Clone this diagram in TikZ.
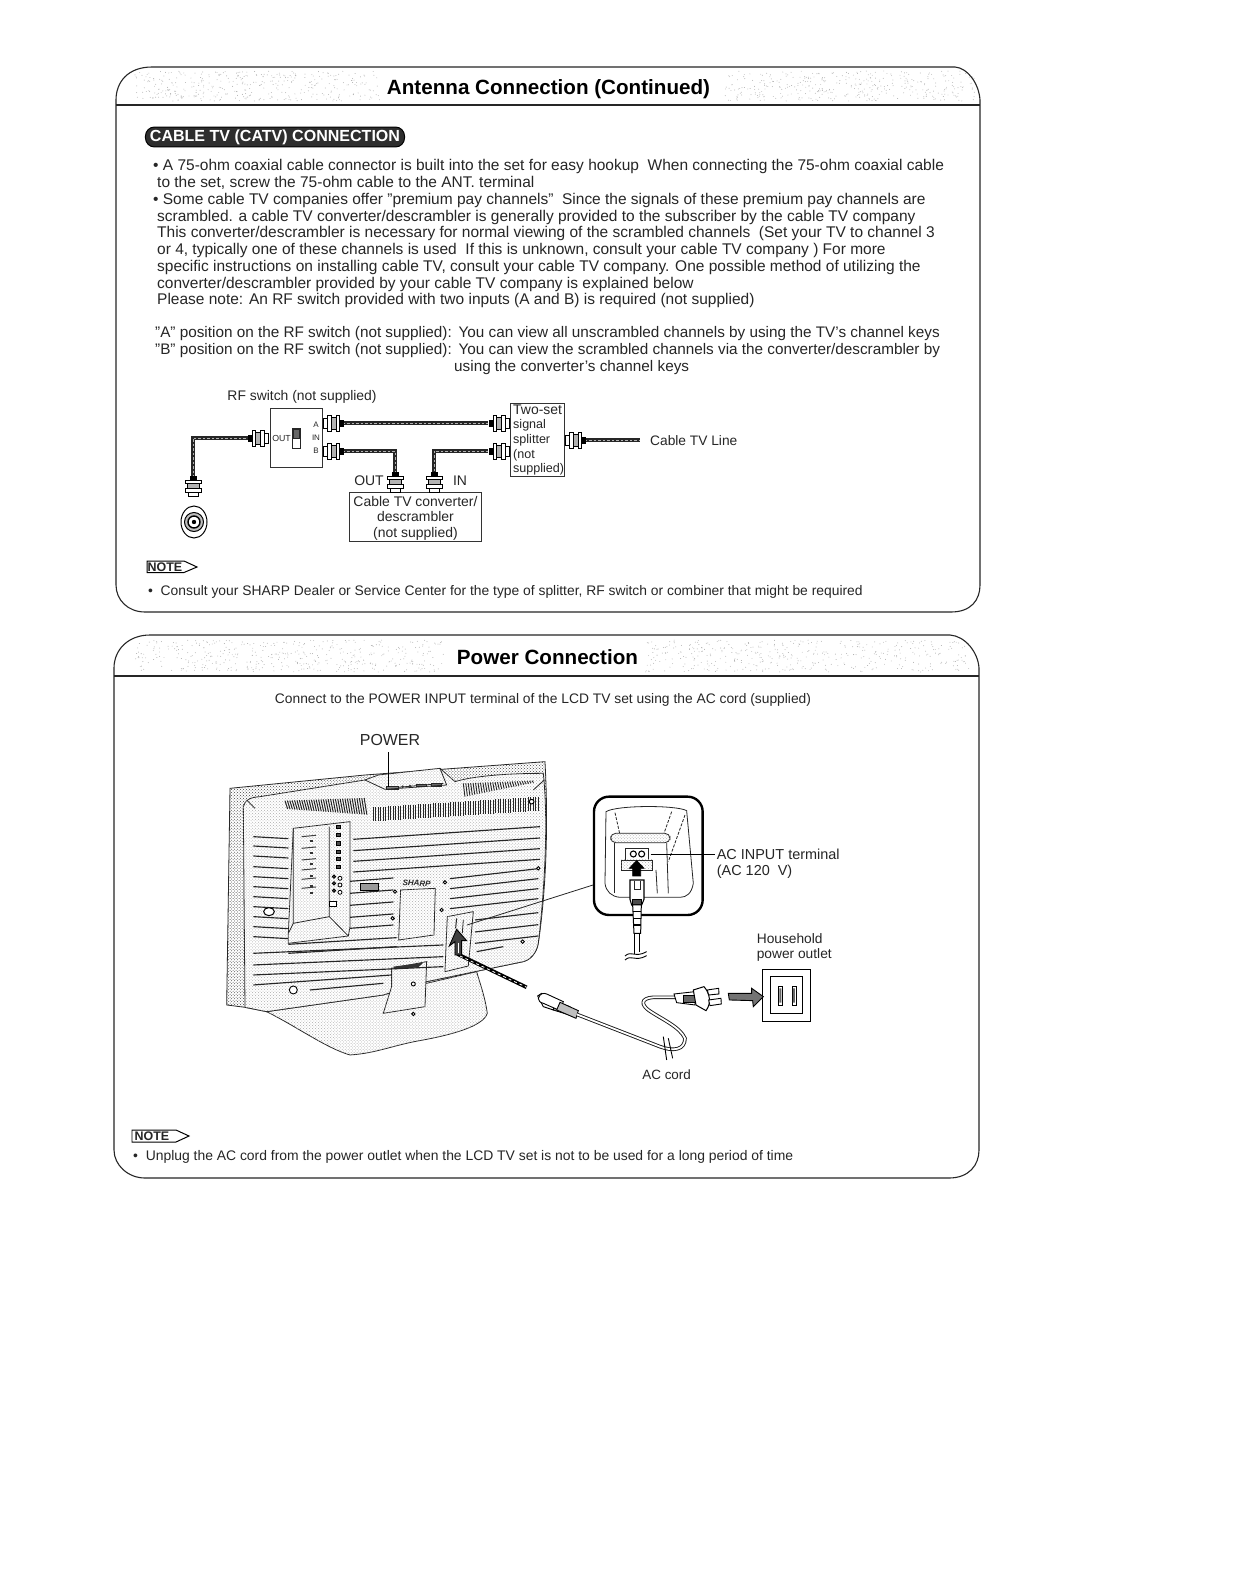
\documentclass[tikz,border=0pt]{standalone}
\usepackage{fontspec}
\setmainfont{Liberation Sans}
\usetikzlibrary{patterns,calc}
\newcommand{\fsz}[1]{\fontsize{#1}{#1}\selectfont}
\tikzset{
 panel/.style={draw=black!85,line width=1.1},
 txt/.style={anchor=base west,inner sep=0,text=black!85,font=\fsz{15.55}},
 txtb/.style={txt,font=\fsz{15.35}},
 lbl/.style={inner sep=0,text=black!85,font=\fsz{14}},
 ttl/.style={inner sep=0,text=black,font=\fsz{20.7}\bfseries},
 cable/.style={line width=3.8,draw=black!85,postaction={draw=black!30,line width=1,dash pattern=on 2.5 off 2}},
 box/.style={draw=black!80,line width=1,fill=white,inner sep=0},
 ln/.style={draw=black!85,line width=.8},
 slat/.style={draw=black!85,line width=1.15},
 stip/.style={pattern=crosshatch dots,pattern color=black!32},
 stipd/.style={pattern=crosshatch dots,pattern color=black!75},
 pics/coax/.style={code={
  \draw[fill=white,line width=.9] (-10,-5) rectangle (-6,5);
  \draw[fill=white,line width=.9] (-6,-8) rectangle (-2,8);
  \draw[fill=black!30,line width=.9] (-2,-6) rectangle (3,6);
  \draw[fill=white,line width=.9] (3,-8) rectangle (6,8);
  \draw[fill=black,line width=.9] (6,-3) rectangle (10,3);
 }}
}
\begin{document}
\begin{tikzpicture}[x=1bp,y=-1bp]
\useasboundingbox (0,0) rectangle (1234,1574);
\fill[white] (0,0) rectangle (1234,1574);
% ---- title stipple
\pgfmathsetseed{7}
\foreach \i in {1,...,380}{\pgfmathsetmacro\xa{135+rnd*245}\pgfmathsetmacro\ya{71+rnd*30}\fill[black!32] (\xa,\ya) circle (.45);}
\foreach \i in {1,...,380}{\pgfmathsetmacro\xa{725+rnd*250}\pgfmathsetmacro\ya{71+rnd*30}\fill[black!32] (\xa,\ya) circle (.45);}
\foreach \i in {1,...,440}{\pgfmathsetmacro\xa{135+rnd*310}\pgfmathsetmacro\ya{640+rnd*32}\fill[black!32] (\xa,\ya) circle (.45);}
\foreach \i in {1,...,420}{\pgfmathsetmacro\xa{645+rnd*325}\pgfmathsetmacro\ya{640+rnd*32}\fill[black!32] (\xa,\ya) circle (.45);}
% ---- panels
\draw[panel] (116,105) -- (116,100) .. controls (116,82) and (128,67) .. (152,67) -- (955,67) .. controls (968,68) and (979,84) .. (980,100) -- (980,585) .. controls (980,600) and (971,612) .. (951,612) -- (145,612) .. controls (128,612) and (116,600) .. (116,585) -- cycle;
\draw[panel] (116,105) -- (980,105);
\draw[panel] (114,675) -- (114,668) .. controls (114,650) and (128,635) .. (150,635) -- (950,635) .. controls (965,636) and (978,652) .. (979,668) -- (979,1150) .. controls (979,1165) and (969,1178) .. (949,1178) -- (145,1178) .. controls (128,1178) and (114,1165) .. (114,1150) -- cycle;
\draw[panel] (114,676) -- (979,676);
\node[ttl] (t1) at (548.5,89) {Antenna Connection (Continued)};
\node[ttl] (t2) at (547.5,657) {Power Connection};
% ---- banner
\node[draw=black,line width=1,fill=black!82,rounded corners=9,minimum width=260,minimum height=20,inner sep=0,text=white,font=\fsz{16.1}\bfseries] (banner) at (275,137) {CABLE TV (CATV) CONNECTION};
% ---- body text
\node[txt] (l1) at (153,170) {• A 75-ohm coaxial cable connector is built into the set for easy hookup\ \ When connecting the 75-ohm coaxial cable};
\node[txt] (l2) at (157,187) {to the set, screw the 75-ohm cable to the ANT.\ terminal};
\node[txt] (l3) at (153,204) {• Some cable TV companies offer "premium pay channels"\ \ Since the signals of these premium pay channels are};
\node[txt] (l4) at (157,221) {scrambled. a cable TV converter/descrambler is generally provided to the subscriber by the cable TV company};
\node[txt] (l5) at (157,237) {This converter/descrambler is necessary for normal viewing of the scrambled channels\ \ (Set your TV to channel 3};
\node[txt] (l6) at (157,254) {or 4, typically one of these channels is used\ \ If this is unknown, consult your cable TV company ) For more};
\node[txt] (l7) at (157,271) {specific instructions on installing cable TV, consult your cable TV company. One possible method of utilizing the};
\node[txt] (l8) at (157,288) {converter/descrambler provided by your cable TV company is explained below};
\node[txt] (l9) at (157,304) {Please note: An RF switch provided with two inputs (A and B) is required (not supplied)};
\node[txtb] (l10) at (155,337) {"A" position on the RF switch (not supplied):\ \,You can view all unscrambled channels by using the TV's channel keys};
\node[txtb] (l11) at (155,354) {"B" position on the RF switch (not supplied):\ \,You can view the scrambled channels via the converter/descrambler by};
\node[txtb] (l12) at (454,371) {using the converter's channel keys};
% ---- cable diagram
\node[lbl,font=\fsz{13.95}] (rflbl) at (302,397) {RF switch (not supplied)};
\node[box,minimum width=53,minimum height=60] (rf) at (296.5,438) {};
\node[box,minimum width=55,minimum height=74] (split) at (537.5,440) {};
\node[box,minimum width=133,minimum height=50] (conv) at (415.5,517) {};
\node[inner sep=0,text=black!85,align=left,anchor=west,font=\fontsize{12.6}{14.6}\selectfont] (splittxt) at (513,440) {{\fontsize{14}{14.6}\selectfont Two-set}\\signal\\splitter\\(not\\supplied)};
\node[inner sep=0,text=black!85,align=center,font=\fontsize{14}{15.6}\selectfont] (convtxt) at (415.5,518) {Cable TV converter/\\descrambler\\(not supplied)};
\node[lbl,font=\fsz{8}] (la) at (316,425) {A};
\node[lbl,font=\fsz{8}] (lin) at (316,438) {IN};
\node[lbl,font=\fsz{8}] (lb) at (316,451) {B};
\node[lbl,font=\fsz{8.8}] (lout) at (281.5,438) {OUT};
\node[draw=black!85,line width=.8,minimum width=8,minimum height=20,inner sep=0] (slider) at (296,438) {};
\draw[black!85,fill=black!60] (293,429) rectangle (299,438);
\node[lbl] (outlbl) at (369,481) {OUT};
\node[lbl] (inlbl) at (460,481) {IN};
\node[lbl,anchor=west,font=\fsz{13.8}] (catv) at (650,441) {Cable TV Line};
\coordinate (cA1) at (343,423); \coordinate (cA2) at (488,423);
\coordinate (cB1) at (343,451); \coordinate (cB2) at (395,451); \coordinate (cB3) at (395,472);
\coordinate (cS1) at (488,451); \coordinate (cS2) at (434,451); \coordinate (cS3) at (434,472);
\coordinate (cO1) at (250,438); \coordinate (cO2) at (193,438); \coordinate (cO3) at (193,476);
\coordinate (cR1) at (585,440); \coordinate (cR2) at (640,440);
\draw[cable] (cA1) -- (cA2);
\draw[cable] (cB1) -- (cB2) -- (cB3);
\draw[cable] (cS1) -- (cS2) -- (cS3);
\draw[cable] (cO1) -- (cO2) -- (cO3);
\draw[cable] (cR1) -- (cR2);
\pic at (333,423) {coax};
\pic[rotate=180] at (499,423) {coax};
\pic at (333,451) {coax};
\pic[rotate=180] at (499,451) {coax};
\pic[xscale=-1] at (258,438) {coax};
\pic at (575,440) {coax};
\pic[rotate=90] at (395,482) {coax};
\pic[rotate=90] at (434,482) {coax};
\pic[rotate=90] at (193,486) {coax};
\draw[line width=1,fill=white] (194,522) ellipse (13 and 16);
\draw[line width=1,fill=black!25] (194,522) circle (9.5);
\draw[line width=1.4,fill=white] (194,522) circle (6);
\fill[black] (194,522) circle (2.2);
% NOTE 1
\draw[line width=1,fill=white] (147,561) -- (184,561) -- (197,567) -- (184,572.5) -- (147,572.5) -- cycle;
\node[inner sep=0,font=\fsz{12.5}\bfseries,text=black!85] (n1) at (165,567) {NOTE};
\node[txt,font=\fsz{13.9}] (n1a) at (148,595) {• \ Consult your SHARP Dealer or Service Center for the type of splitter, RF switch or combiner that might be required};
% ---- power panel text
\node[lbl,font=\fsz{13.87}] (pw1) at (543,700) {Connect to the POWER INPUT terminal of the LCD TV set using the AC cord (supplied)};
\node[inner sep=0,text=black!85,font=\fsz{16}] (pw) at (390,740) {POWER};
\draw[line width=1,fill=white] (132,1130) -- (176,1130) -- (189,1136) -- (176,1142) -- (132,1142) -- cycle;
\node[inner sep=0,font=\fsz{12.5}\bfseries,text=black!85] (n2) at (152,1136) {NOTE};
\node[txt,font=\fsz{13.95}] (n2a) at (133,1160) {• \ Unplug the AC cord from the power outlet when the LCD TV set is not to be used for a long period of time};
% ---- TV (coordinates of the 3x crop)
\begin{scope}[shift={(210,720)},x=0.3333bp,y=-0.3333bp]
 % stand
 \draw[ln,fill=white,postaction={stip}] (170,875) .. controls (260,920) and (350,985) .. (420,1005) .. controls (500,1000) and (550,975) .. (640,960) .. controls (720,945) and (820,920) .. (832,880) .. controls (825,830) and (810,790) .. (800,755) -- (650,790) -- cycle;
 % bezel
 \draw[ln,fill=white,postaction={stipd}] (60,205) -- (465,165) -- (1005,125) .. controls (1015,300) and (1010,500) .. (985,670) .. controls (980,700) and (960,720) .. (940,725) -- (650,785) -- (520,825) -- (170,875) -- (105,862) -- (50,855) -- cycle;
 \draw[ln,fill=white,postaction={stip}] (465,180) -- (505,165) -- (690,145) -- (735,185) .. controls (800,165) and (920,160) .. (1000,160) .. controls (1015,300) and (1005,500) .. (985,670) .. controls (980,700) and (960,720) .. (940,725) -- (650,785) -- (520,825) -- (170,875) -- (105,862) -- (100,260) .. controls (105,240) and (120,232) .. (150,230) -- cycle;
 % neck
 \draw[ln,fill=white,postaction={stip}] (545,745) -- (650,725) -- (645,860) -- (520,880) -- (545,800) -- cycle;
 \fill[black!80] (550,740) -- (640,728) -- (625,742) -- (555,748) -- cycle;
 % top panel buttons
 \draw[ln] (530,205) -- (700,190);
 \draw[ln,fill=black!50] (528,198) rectangle (565,208);
 \fill[black!80] (578,200) circle (4) (600,198) circle (4);
 \draw[ln,fill=black!60] (620,192) rectangle (650,200);
 \draw[ln,fill=black!60] (665,190) rectangle (695,198);
 \draw[ln] (465,180) -- (525,208) -- (710,195) -- (690,145);
 % vents
 \foreach \t in {0,0.015,...,1}{
  \pgfmathsetmacro\xv{490+500*\t}\pgfmathsetmacro\yv{262-32*\t}
  \draw[black!85,line width=1] (\xv,\yv) -- (\xv,\yv+42);}
 \foreach \t in {0,0.03,...,1}{
  \pgfmathsetmacro\xv{225+240*\t}\pgfmathsetmacro\yv{242-8*\t}
  \pgfmathsetmacro\hv{25+25*\t}
  \draw[black!85,line width=1] (\xv,\yv) -- (\xv+8,\yv+\hv);}
 \foreach \t in {0,0.035,...,1}{
  \pgfmathsetmacro\xv{760+210*\t}\pgfmathsetmacro\yv{190-8*\t}
  \pgfmathsetmacro\hv{35*(1-\t)+5}
  \draw[black!85,line width=.9] (\xv,\yv) -- (\xv+5,\yv+\hv);}
 \draw[ln] (970,210) -- (1003,180);
 \draw[line width=1,fill=white] (965,245) circle (7);
 \draw[ln] (110,240) -- (135,265);
 % slats left
 \foreach \y in {350,378,408,440,470,500,530,560,590,620,650}{\draw[slat] (130,\y) -- (235,\y+6);}
 % slats centre-right full width
 \foreach \y in {358,392,424,456}{\draw[slat] (430,\y) -- (990,\y-38);}
 \foreach \y in {484,520,556,592,625}{\draw[slat] (420,\y) -- (550,\y-10);}
 \foreach \y in {476,506,536,566}{\draw[slat] (720,\y) -- (985,\y-30);}
 \foreach \y in {600,636,670}{\draw[slat] (795,\y) -- (985,\y-22);}
 \draw[slat] (800,695) -- (880,680);
 \foreach \y in {648,675}{\draw[slat] (235,\y+25) -- (560,\y+5);}
 \foreach \y in {700,735,765}{\draw[slat] (130,\y) -- (700,\y-25);}
 \draw[slat] (130,795) -- (545,765);
 \draw[slat] (300,810) -- (520,790);
 % terminal panel
 \draw[ln,fill=white,postaction={stip}] (250,325) -- (420,305) -- (420,620) -- (415,648) -- (235,670) -- (235,640) -- cycle;
 \draw[ln] (250,325) -- (250,610) -- (358,590) -- (358,320);
 \draw[ln] (358,590) -- (415,648);
 \draw[ln] (250,610) -- (235,640);
 \foreach \y in {315,340,365,390,412,435}{\draw[line width=.8,fill=black!70] (380,\y) rectangle (392,\y+10);}
 \foreach \y in {470,490,512}{
  \draw[line width=.8,fill=black!70] (372,\y) circle (5);
  \draw[line width=.8,fill=white] (390,\y+5) circle (6);}
 \draw[line width=.8,fill=white] (358,545) rectangle (380,558);
 \foreach \y in {350,385,420,450,478,505}{\draw[black!75,line width=1] (275,\y) -- (318,\y-4);}
 \foreach \y in {360,395,430,465,495,515}{\fill[black!80] (300,\y) rectangle (310,\y+6);}
 \draw[line width=.8,fill=black!40] (450,490) rectangle (505,512);
 \draw[line width=1,fill=white] (177,575) ellipse (16 and 12);
 \draw[line width=.9,fill=white] (555,515) circle (5) (548,595) circle (5) (705,487) circle (5) (695,570) circle (5) (985,445) circle (5) (938,665) circle (5) (250,810) circle (12) (610,792) circle (6) (610,882) circle (5);
 \node[inner sep=0,font=\fsz{8}\bfseries\itshape,rotate=-3,text=black!85] (sharp) at (620,490) {SHARP};
 \draw[ln,fill=white,postaction={stip}] (572,510) -- (676,505) -- (672,645) -- (566,660) -- cycle;
 % AC recess
 \draw[ln,fill=white,postaction={stip}] (712,590) -- (790,575) -- (775,738) -- (705,755) -- cycle;
 \draw[black!85,line width=1] (740,595) -- (737,625);
 \draw[black!85,line width=.8] (760,600) -- (757,640);
 % cord + arrow
 \draw[line width=3.6] (742,702) -- (950,802);
 \draw[white,line width=.8,dash pattern=on 3 off 3] (750,708) -- (950,802);
 \draw[line width=.9,fill=black!75] (740,628) -- (770,662) -- (755,662) -- (755,705) -- (735,705) -- (735,665) -- (718,678) -- cycle;
 \draw[white,line width=.8] (745,668) -- (745,700);
 % plug stub
 \draw[line width=.9,fill=white] (983,828) -- (995,820) -- (1035,845) -- (1030,870) -- (1000,860) -- cycle;
 \draw[line width=.9,fill=black!30] (1035,845) -- (1080,860) -- (1078,885) -- (1030,870) -- cycle;
\end{scope}
\draw[ln] (467,925) -- (593,885);
\draw[line width=1.2] (388.5,752) -- (388.5,787);
% ---- inset etc (coordinates of the 3x crop)
\begin{scope}[shift={(520,770)},x=0.3333bp,y=-0.3333bp]
 \draw[line width=2.4,rounded corners=15] (222,80) rectangle (548,435);
 \draw[ln] (258,125) .. controls (290,105) and (470,105) .. (500,122) -- (520,340) .. controls (515,370) and (500,382) .. (480,382) -- (300,382) .. controls (275,380) and (258,365) .. (255,340) -- cycle;
 \draw[ln,dash pattern=on 3 off 1.5] (285,128) -- (300,195);
 \draw[ln,dash pattern=on 3 off 1.5] (455,125) -- (432,190);
 \draw[ln,dash pattern=on 3 off 1.5] (495,135) -- (445,275);
 \draw[ln,fill=white,postaction={stip},rounded corners=5] (272,190) rectangle (450,218);
 \draw[ln] (282,218) -- (282,370);
 \draw[ln] (440,218) -- (445,370);
 \draw[ln] (408,300) -- (412,370);
 \draw[ln,fill=white] (315,235) rectangle (385,270);
 \draw[line width=1.1] (340,252) circle (9) (365,252) circle (9);
 \draw[ln,fill=white,postaction={stip}] (305,270) rectangle (398,300);
 \draw[line width=.8,fill=black] (350,272) -- (372,295) -- (362,295) -- (362,318) -- (338,318) -- (338,295) -- (328,295) -- cycle;
 \draw[line width=1.1,fill=white] (330,330) -- (372,330) -- (372,388) -- (365,405) -- (335,405) -- (330,388) -- cycle;
 \draw[ln] (342,332) -- (342,358) -- (360,358) -- (360,332);
 \draw[line width=.8,fill=black!70] (337,388) rectangle (365,404);
 \draw[line width=1,fill=white] (338,405) -- (364,405) -- (362,490) -- (342,490) -- cycle;
 \foreach \y in {425,445,465}{\draw[line width=1.2] (340,\y) -- (363,\y);}
 \draw[line width=1] (343,490) -- (343,552) (360,490) -- (360,545);
 \draw[line width=.9] (315,558) .. controls (335,540) and (345,565) .. (380,545);
 \draw[line width=.9] (315,570) .. controls (335,552) and (345,577) .. (380,557);
 % AC INPUT leader
 \node[lbl,anchor=west,font=\fsz{14.5}] (acin) at (590,252) {AC INPUT terminal};
 \node[lbl,anchor=west,font=\fsz{14.5}] (acv) at (590,304) {(AC 120\ \ V)};
 \coordinate (acterm) at (392,252);
 \draw[line width=1,shorten >=2] (acterm) -- (acin.west);
 % outlet
 \node[lbl,anchor=west,font=\fsz{13.8}] (hh) at (710,506) {Household};
 \node[lbl,anchor=west,font=\fsz{13.8}] (hp) at (710,556) {power outlet};
 \draw[line width=1] (728,600) rectangle (873,755);
 \draw[line width=1] (752,620) rectangle (848,730);
 \draw[line width=.9] (775,648) rectangle (787,705);
 \draw[line width=.9] (816,648) rectangle (828,705);
 \fill[black!60] (778,655) rectangle (784,698) (819,655) rectangle (825,698);
 % grey arrow
 \draw[line width=.9,fill=black!55] (625,670) -- (695,670) -- (695,655) -- (730,680) -- (700,710) -- (698,692) -- (628,690) -- cycle;
 % AC cord
 \draw[line width=.9,fill=white] (55,685) .. controls (60,670) and (70,668) .. (80,672) -- (130,695) -- (120,722) -- (70,700) .. controls (60,698) and (55,692) .. cycle;
 \draw[line width=.9,fill=black!25] (120,697) -- (175,722) -- (168,745) -- (110,720) -- cycle;
 \draw[line width=3.6,draw=black!90] (170,733) -- (420,830) .. controls (460,845) and (495,840) .. (495,805) .. controls (480,770) and (420,745) .. (385,720) .. controls (365,705) and (360,685) .. (400,682) -- (470,682);
 \draw[line width=1.8,white] (170,733) -- (420,830) .. controls (460,845) and (495,840) .. (495,805) .. controls (480,770) and (420,745) .. (385,720) .. controls (365,705) and (360,685) .. (400,682) -- (470,682);
 \draw[line width=.9] (430,800) -- (440,870) (445,805) -- (458,865);
 % mains plug
 \draw[line width=.9,fill=white] (462,672) -- (525,665) -- (525,705) -- (470,698) -- cycle;
 \draw[line width=.8,fill=black!60] (490,675) rectangle (525,698);
 \draw[line width=1,fill=white] (520,660) -- (552,650) .. controls (570,670) and (575,700) .. (558,722) -- (528,705) -- cycle;
 \draw[line width=.9,fill=white] (562,660) -- (596,655) -- (597,672) -- (566,675) -- cycle;
 \draw[line width=.9,fill=white] (566,690) -- (603,685) -- (604,702) -- (570,707) -- cycle;
 \node[lbl,font=\fsz{13.5}] (accord) at (440,914) {AC cord};
\end{scope}
\end{tikzpicture}
\end{document}
